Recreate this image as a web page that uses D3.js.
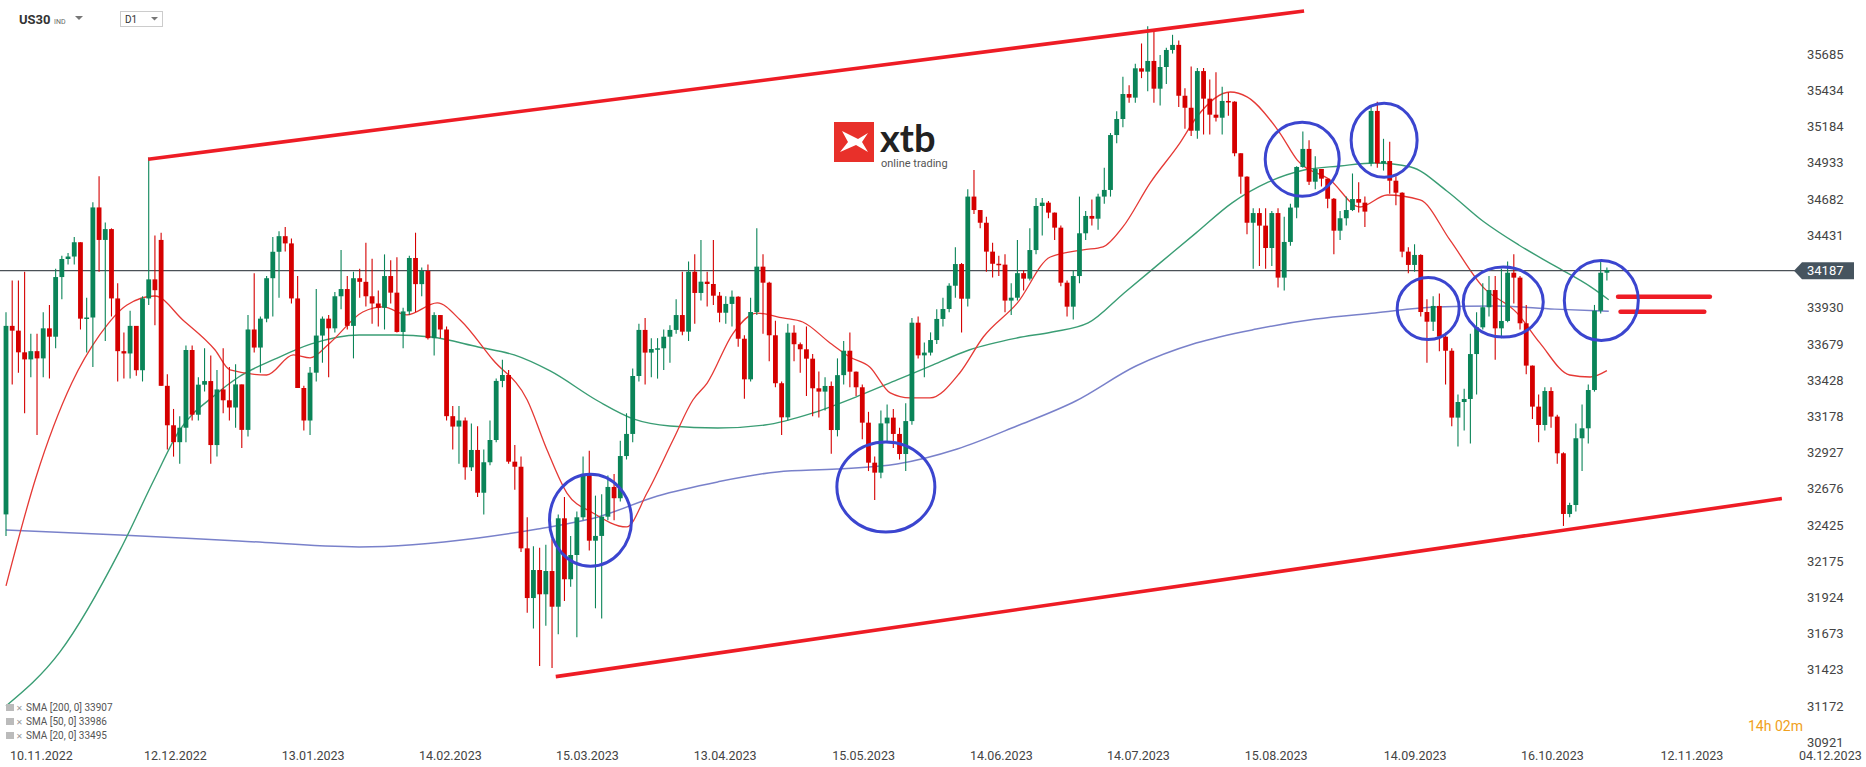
<!DOCTYPE html>
<html><head><meta charset="utf-8">
<script src="https://cdn.jsdelivr.net/npm/d3@7/dist/d3.min.js"></script>
<style>html,body{margin:0;padding:0;background:#fff;overflow:hidden}svg{display:block;font-family:Roboto,"Open Sans",sans-serif}</style>
</head><body><svg id="c" width="1866" height="767"></svg>
<script>
// ---- data ----
const firstOpen = 32500;
const gapOpens = [[25, 34400], [220, 34930]];
const closes = [33805,33772,33622,33573,33630,33580,33788,33730,34143,34268,
34285,34384,33855,33863,34625,34400,34475,33995,33630,33614,
33805,33498,33995,34127,34052,33390,33117,33000,33100,33638,
33190,33398,33423,32980,33365,33290,33240,33400,33085,33780,
33655,33855,34135,34318,34426,34376,33995,33375,33150,33481,
33738,33855,33788,34010,34060,33805,34135,34110,34010,33960,
33930,34150,34035,33763,33905,34275,34094,34185,33720,33880,
33780,33180,33108,33150,32826,32946,32650,32861,33015,33424,
33465,32865,32830,32265,31921,32115,31947,32108,31861,32473,
32051,32219,32480,32780,32318,32351,32484,32690,32612,32904,
33057,33458,33777,33620,33645,33650,33730,33777,33880,33765,
34180,34033,34111,34095,34014,33896,33957,34007,33716,33435,
33901,34215,34104,33740,33408,33172,33758,33678,33643,33578,
33373,33350,33389,33084,33464,33633,33488,33380,33135,32858,
32789,33130,33170,33057,32918,33146,33827,33601,33620,33707,
33853,33922,34083,34233,33993,34700,34607,34519,34319,34235,
34229,33980,34000,34170,34132,34330,34635,34658,34589,34485,
34104,33938,34150,34446,34566,34547,34700,34746,35126,35237,
35410,35385,35588,35565,35639,35447,35597,35715,35750,35398,
35315,35156,35569,35378,35267,35246,35362,35357,35000,34838,
34519,34586,34499,34344,34586,34139,34386,34624,34905,35030,
34803,34891,34824,34685,34464,34550,34607,34683,34658,34596,
35293,34930,34946,34810,34727,34319,34227,34296,33901,33834,
33943,33730,33633,33170,33278,33299,33610,33795,33934,34053,
33788,33839,34173,34139,33823,33530,33246,33119,33354,33177,
32923,32503,32565,33027,33096,33361,33910,34173,34192];
const highs = [33900,34120,34120,34180,33750,33750,33900,33950,34200,34290,
34310,34420,34384,34000,34660,34840,34520,34480,34100,33760,
33910,33805,34010,34970,34430,34450,33470,33230,33180,33670,
33670,33450,33650,33600,33500,33650,33520,33540,33400,33880,
34170,33870,34150,34420,34460,34490,34410,34150,33390,33520,
34060,33870,33880,34040,34330,34150,34180,34200,34380,34270,
34050,34300,34260,34280,33930,34290,34450,34210,34230,33900,
33880,33800,33250,33250,33170,33130,33110,32950,33150,33440,
33570,33500,32980,32900,32480,32280,32270,32290,32330,32500,
32620,32350,32520,32900,32940,32630,32640,32770,32780,33010,
33200,33510,33820,33860,33720,33720,33780,33810,33990,34180,
34250,34300,34400,34180,34400,34040,34010,34050,34010,33740,
34000,34480,34300,34110,33840,33420,33820,33810,33690,33800,
33610,33490,33450,33420,33580,33700,33760,33490,33400,33210,
32900,33220,33260,33230,33100,33270,33860,33870,33690,33760,
33920,34000,34100,34350,34240,34750,34884,34600,34560,34380,
34290,34300,34100,34400,34190,34480,34690,34690,34670,34590,
34500,34120,34190,34700,34600,34680,34720,34900,35140,35290,
35530,35470,35620,35760,35880,35841,35680,35730,35820,35780,
35450,35600,35590,35590,35510,35560,35460,35420,35360,35000,
34840,34620,34620,34620,34600,34620,34560,34650,34910,35150,
35090,34980,34860,34820,34690,34600,34700,34860,34800,34700,
35330,35357,35100,35080,34840,34730,34350,34370,34300,33990,
34010,34030,33760,33650,33330,33370,33750,33900,34100,34150,
34150,34200,34250,34300,34150,33950,33530,33330,33380,33380,
33190,32930,32580,33130,33260,33400,33950,34250,34210];
const lows = [32350,33400,33480,33200,33450,33050,33450,33440,33650,33990,
34230,34230,33780,33620,33520,34180,33700,33870,33420,33440,
33440,33460,33420,33950,33810,33390,32950,32900,32850,33000,
33150,33150,33350,32850,32900,33200,33150,33100,32960,33040,
33620,33480,33830,33870,34000,34320,33960,33375,33080,33050,
33420,33550,33450,33760,33920,33780,33580,34000,33940,33820,
33800,33780,33960,33760,33650,33880,33900,34010,33710,33600,
33720,33150,32950,32850,32740,32800,32620,32500,32840,33000,
33380,32850,32670,32240,31820,31710,31450,31730,31437,31670,
31900,32000,31650,32460,32250,31850,31780,32460,32460,32590,
32880,33000,33420,33400,33450,33440,33500,33550,33750,33740,
33700,33820,33980,33940,33950,33830,33820,33800,33660,33300,
33420,33880,33750,33560,33380,33050,33150,33560,33480,33320,
33180,33170,33220,32920,33040,33400,33380,33320,33020,32800,
32600,32750,33000,32960,32880,32800,33120,33580,33450,33600,
33680,33800,33900,34000,33760,33940,34580,34480,34180,34140,
34150,33900,33880,33980,34050,34120,34300,34430,34550,34400,
34080,33870,33850,34100,34400,34500,34470,34650,34700,35070,
35180,35350,35350,35520,35430,35350,35330,35480,35690,35320,
35170,35120,35100,35130,35130,35220,35130,35260,34980,34720,
34440,34200,34220,34200,34220,34070,34050,34360,34550,34900,
34780,34750,34770,34620,34300,34400,34500,34600,34590,34490,
34910,34900,34880,34720,34640,34280,34170,34180,33870,33550,
33770,33630,33400,33110,32970,33080,32990,33330,33780,33870,
33570,33720,33830,33960,33780,33470,33160,33000,33080,33100,
32850,32420,32480,32520,32800,32990,33350,33890,34120];
// moving averages read as sample points [candle index, value]
const sma20 = [[0,32005],[4.8,32752],[10.6,33409],[15.1,33742],[19.5,33950],[24,34012],[28.5,33846],[33.7,33638],[36.1,33500],[42,33465],[46.3,33604],[49,33583],[52.2,33687],[57.5,33901],[60.8,33936],[64.6,33881],[69.5,33964],[73.2,33846],[78.5,33569],[84,33292],[87.2,32946],[90.4,32648],[94.6,32510],[100,32413],[103.3,32648],[107.5,33015],[110.7,33292],[113,33409],[117.2,33755],[121,33894],[125.2,33860],[128.4,33832],[132.8,33687],[136,33590],[139.2,33521],[142.5,33341],[145.7,33306],[148.9,33306],[153.7,33479],[157.5,33728],[163,33964],[168.3,34282],[173.6,34331],[176.8,34352],[180,34490],[184.4,34795],[189.2,35072],[191.9,35251],[197.3,35424],[200,35390],[205.3,35140],[208.1,34953],[213.4,34815],[218.2,34628],[222.6,34711],[227.9,34677],[232.7,34400],[238,34075],[243.5,33895],[247.2,33687],[252,33465],[255.3,33451],[258,33495]];
const sma50 = [[0,31174],[8.7,31548],[18.4,32254],[24,32752],[27.9,33078],[33.7,33327],[37.5,33451],[43.4,33576],[49.2,33680],[56.9,33742],[62.7,33742],[68.5,33728],[76.1,33659],[81.9,33604],[87.7,33493],[95.4,33285],[101.2,33160],[107,33112],[114.7,33098],[122.3,33119],[130,33202],[137.8,33327],[143.6,33431],[149.4,33535],[155.2,33638],[162.9,33721],[168.6,33763],[174.4,33825],[180.2,34033],[186,34241],[191.8,34449],[197.6,34657],[203.4,34800],[209.2,34884],[215,34912],[220.6,34933],[226.4,34905],[232.2,34739],[238,34531],[243.8,34365],[249.6,34220],[255.4,34075],[258.3,33986]];
const sma200 = [[0,32392],[18.4,32358],[37.5,32316],[56.9,32275],[76.1,32337],[85.7,32399],[95.4,32482],[105,32628],[114.7,32725],[124.3,32794],[133.9,32814],[143.6,32849],[153.3,32953],[162.9,33112],[172.4,33285],[182.1,33527],[191.8,33686],[201.5,33783],[211.1,33852],[220.6,33894],[230.3,33935],[240,33942],[249.6,33921],[258.3,33907]];
const legendRows = ["SMA [200, 0] 33907","SMA [50, 0] 33986","SMA [20, 0] 33495"];
const priceTicks = [35685,35434,35184,34933,34682,34431,33930,33679,33428,33178,32927,32676,32425,32175,31924,31673,31423,31172,30921];
const lastPrice = 34187;
const dateLabels = ["10.11.2022","12.12.2022","13.01.2023","14.02.2023","15.03.2023","13.04.2023","15.05.2023","14.06.2023","14.07.2023","15.08.2023","14.09.2023","16.10.2023","12.11.2023","04.12.2023"];
const dateIdx = [0,21.6,43.8,65.9,88,110.2,132.5,154.7,176.8,199,221.4,243.5,266,288.3];
// drawn annotations in data space
const channelUpper = [[22.9,34959],[209.2,35985]];
const channelLower = [[88.6,31377],[286.2,32610]];
const circles = [[94.2,32460,41,46],[141.8,32690,49,45],[208.9,34958,37,37],[222.1,35090,33,37],[229.2,33925,31,31],[241.3,33970,40,35],[257.1,33980,37,40]];
const levels = [[259.8,274.6,34006],[260.2,273.7,33902]];

// ---- scales ----
const svg = d3.select("#c");
const x = d3.scaleLinear().domain([0, 288.3]).range([6, 6 + 288.3 * 6.205]);
const y = d3.scaleLinear().domain([30921, 35685]).range([742.5, 54.3]);
const GREEN = "#0a8458", RED = "#d50000";

const candles = closes.map((c, i) => {
  let o = i === 0 ? firstOpen : closes[i - 1];
  gapOpens.forEach(g => { if (g[0] === i) o = g[1]; });
  return {i, o, c, h: Math.max(highs[i], o, c), l: Math.min(lows[i], o, c)};
});

// moving averages
const line = d3.line().x(d => x(d[0])).y(d => y(d[1])).curve(d3.curveMonotoneX);
svg.append("path").attr("d", line(sma200)).attr("fill", "none").attr("stroke", "#6a73c4").attr("stroke-width", 1.5).attr("opacity", 0.9);
svg.append("path").attr("d", line(sma50)).attr("fill", "none").attr("stroke", "#3a9d74").attr("stroke-width", 1.4);
svg.append("path").attr("d", line(sma20)).attr("fill", "none").attr("stroke", "#e53935").attr("stroke-width", 1.3);

// last price line
svg.append("line").attr("x1", 0).attr("x2", 1796).attr("y1", y(lastPrice)).attr("y2", y(lastPrice)).attr("stroke", "#4b5157").attr("stroke-width", 1.2);

// candles
const g = svg.append("g");
g.selectAll(".w").data(candles).join("line")
  .attr("x1", d => x(d.i)).attr("x2", d => x(d.i))
  .attr("y1", d => y(d.h)).attr("y2", d => y(d.l))
  .attr("stroke", d => d.c >= d.o ? GREEN : RED).attr("stroke-width", 1.1);
g.selectAll(".b").data(candles).join("rect")
  .attr("x", d => x(d.i) - 2.4).attr("width", 4.8)
  .attr("y", d => y(Math.max(d.o, d.c)))
  .attr("height", d => Math.max(1.5, Math.abs(y(d.o) - y(d.c))))
  .attr("fill", d => d.c >= d.o ? GREEN : RED);

// channel lines
[channelUpper, channelLower].forEach(ch => {
  svg.append("line").attr("x1", x(ch[0][0])).attr("y1", y(ch[0][1])).attr("x2", x(ch[1][0])).attr("y2", y(ch[1][1]))
    .attr("stroke", "#ee1c25").attr("stroke-width", 3.6);
});
// level lines
levels.forEach(l => {
  svg.append("line").attr("x1", x(l[0])).attr("x2", x(l[1])).attr("y1", y(l[2])).attr("y2", y(l[2]))
    .attr("stroke", "#ee1c25").attr("stroke-width", 4.5).attr("stroke-linecap", "round");
});
// circles
circles.forEach(c => {
  svg.append("ellipse").attr("cx", x(c[0])).attr("cy", y(c[1])).attr("rx", c[2]).attr("ry", c[3])
    .attr("fill", "none").attr("stroke", "#3b45cf").attr("stroke-width", 3);
});

// price axis
svg.selectAll(".pt").data(priceTicks).join("text")
  .attr("x", 1807).attr("y", d => y(d) + 4.5).text(d => d)
  .attr("font-size", 13).attr("fill", "#444");
const ly = y(lastPrice);
svg.append("path").attr("d", `M1794,${ly} L1802,${ly-8.5} L1854,${ly-8.5} L1854,${ly+8.5} L1802,${ly+8.5} Z`).attr("fill", "#46545f");
svg.append("text").attr("x", 1807).attr("y", ly + 4.5).text(lastPrice).attr("font-size", 13).attr("fill", "#fff");

// date axis
svg.selectAll(".dt").data(dateLabels).join("text")
  .attr("x", (d, i) => x(dateIdx[i]) + 4).attr("y", 760).text(d => d)
  .attr("font-size", 12.5).attr("fill", "#444");

// timer
svg.append("text").attr("x", 1748).attr("y", 731).text("14h 02m").attr("font-size", 14).attr("fill", "#f0a020");

// header
svg.append("text").attr("x", 19).attr("y", 24).text("US30").attr("font-size", 13).attr("font-weight", "bold").attr("fill", "#333");
svg.append("text").attr("x", 54).attr("y", 24).text("IND").attr("font-size", 7).attr("fill", "#666");
svg.append("path").attr("d", "M75,16 L83,16 L79,20 Z").attr("fill", "#777");
svg.append("rect").attr("x", 120.5).attr("y", 11.5).attr("width", 42).attr("height", 15).attr("fill", "#fff").attr("stroke", "#ccc");
svg.append("text").attr("x", 125).attr("y", 23).text("D1").attr("font-size", 10).attr("fill", "#333");
svg.append("path").attr("d", "M151,17 L158,17 L154.5,20.5 Z").attr("fill", "#777");

// legend
legendRows.forEach((t, i) => {
  const yy = 711 + i * 14;
  svg.append("rect").attr("x", 6).attr("y", yy - 7).attr("width", 8).attr("height", 7).attr("fill", "#bbb");
  svg.append("text").attr("x", 16).attr("y", yy).text("✕").attr("font-size", 8).attr("fill", "#999");
  svg.append("text").attr("x", 26).attr("y", yy).text(t).attr("font-size", 10).attr("fill", "#555");
});

// logo
svg.append("rect").attr("x", 834).attr("y", 122).attr("width", 40).attr("height", 40).attr("fill", "#e8302a");
svg.append("path").attr("d", "M842,131 L858,139 L868,133 L862,142 L868,152 L856,145 L840,152 L848,142 Z").attr("fill", "#fff");
svg.append("text").attr("x", 880).attr("y", 152).text("xtb").attr("font-size", 38).attr("font-weight", "bold").attr("fill", "#222").attr("font-family", "Lato, Roboto, sans-serif");
svg.append("text").attr("x", 881).attr("y", 167).text("online trading").attr("font-size", 11).attr("fill", "#555");
</script></body></html>
